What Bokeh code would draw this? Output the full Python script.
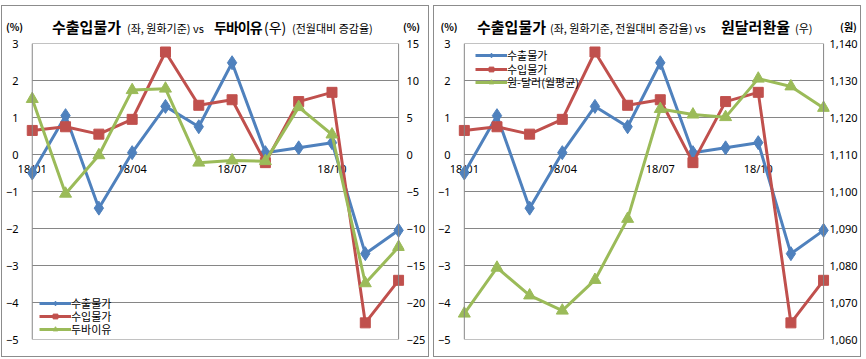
from bokeh.plotting import figure
from bokeh.layouts import row, column
from bokeh.models import (Range1d, LinearAxis, Span, Legend, LegendItem, Div,
                          NumeralTickFormatter, FixedTicker)
from bokeh.core.properties import value
from bokeh.embed import file_html
from bokeh.resources import INLINE

# ---------------- data ----------------
months = ["18/01", "18/02", "18/03", "18/04", "18/05", "18/06",
          "18/07", "18/08", "18/09", "18/10", "18/11", "18/12"]
shown_months = ["18/01", "18/04", "18/07", "18/10"]
export_prices = [-0.5, 1.05, -1.45, 0.05, 1.3, 0.75, 2.48, 0.05, 0.18, 0.32, -2.68, -2.05]
import_prices = [0.65, 0.75, 0.55, 0.95, 2.77, 1.33, 1.48, -0.22, 1.43, 1.68, -4.55, -3.4]
dubai_oil = [7.5, -5.3, -0.1, 8.7, 8.9, -1.1, -0.8, -0.9, 6.4, 2.7, -17.4, -12.5]
krw_usd = [1067.0, 1079.4, 1071.9, 1067.8, 1076.1, 1092.6,
           1122.3, 1120.8, 1120.1, 1130.5, 1128.4, 1122.6]
left_ticks = [-5, -4, -3, -2, -1, 0, 1, 2, 3]
dubai_ticks = [-25, -20, -15, -10, -5, 0, 5, 10, 15]
krw_ticks = [1060, 1070, 1080, 1090, 1100, 1110, 1120, 1130, 1140]

BLUE = "#4F81BD"
RED = "#C0504D"
GREEN = "#9BBB59"
GRID = "#868686"
KR = "Noto Sans CJK KR"
NUM = "Noto Sans"

W = 426          # inner panel width
DIV_H = 31
FIG_H = 319
MBT, MBB = 6, 17
FH = FIG_H - MBT - MBB
xs = list(range(len(months)))
LINE_H = 20


def piece(txt, left, baseline, size, bold=False, ls=0, center_w=None):
    top = baseline - LINE_H / 2 - 0.435 * size
    extra = f"width:{center_w}px;text-align:center;" if center_w else ""
    return (f'<div style="position:absolute;left:{left}px;top:{top:.1f}px;line-height:{LINE_H}px;'
            f'white-space:nowrap;font-size:{size}px;font-weight:{"bold" if bold else "normal"};'
            f'letter-spacing:{ls}px;{extra}">{txt}</div>')


def header(parts):
    html = (f'<div style="position:relative;width:{W}px;height:{DIV_H}px;'
            f'font-family:\'{KR}\';color:#000;">' + "".join(parts) + '</div>')
    return Div(text=html, width=W, height=DIV_H, margin=0)


def make_panel(sec_vals, sec_range, sec_ticks, sec_fmt, sec_name,
               ax_l, ax_r, fr_l, fr_r, r_standoff, legend_x, legend_ys):
    unit = (ax_r - ax_l) / (len(months) - 1)
    x0 = -(ax_l - fr_l) / unit
    x1 = (len(months) - 1) + (fr_r - ax_r) / unit
    p = figure(width=W, height=FIG_H, output_backend="svg", toolbar_location=None,
               x_range=Range1d(x0, x1),
               y_range=Range1d(left_ticks[0], left_ticks[-1]),
               x_axis_location=None,
               min_border_left=fr_l, min_border_right=W - fr_r,
               min_border_top=MBT, min_border_bottom=MBB,
               outline_line_color=None, background_fill_color="white",
               border_fill_color="white", margin=0)
    p.xgrid.visible = False
    p.ygrid.visible = False

    p.extra_y_ranges = {"sec": Range1d(sec_range[0], sec_range[1])}
    rax = LinearAxis(y_range_name="sec", ticker=FixedTicker(ticks=sec_ticks))
    if sec_fmt:
        rax.formatter = NumeralTickFormatter(format=sec_fmt)
    p.add_layout(rax, "right")
    lax = p.yaxis[0]
    lax.ticker = FixedTicker(ticks=left_ticks)
    for ax, so in ((lax, 0), (rax, r_standoff)):
        ax.axis_line_color = None
        ax.major_tick_line_color = None
        ax.minor_tick_line_color = None
        ax.major_tick_out = 0
        ax.major_tick_in = 0
        ax.major_label_standoff = so
        ax.major_label_text_font = NUM
        ax.major_label_text_font_size = "11px"
        ax.major_label_text_color = "#000000"

    # gridlines between the first and last category
    p.segment(x0=xs[0], x1=xs[-1], y0=left_ticks, y1=left_ticks,
              line_color=GRID, line_width=1)
    p.add_layout(Span(location=xs[0], dimension="height", line_color=GRID, line_width=1))
    p.add_layout(Span(location=xs[-1], dimension="height", line_color=GRID, line_width=1))

    # category labels on the zero line
    p.text(x=[months.index(m) for m in shown_months], y=[0] * len(shown_months),
           text=shown_months, text_align="center", text_baseline="top", y_offset=6,
           text_font=value(NUM), text_font_size="11px", text_color="#000000")

    l1 = p.line(xs, export_prices, line_color=BLUE, line_width=3)
    m1 = p.scatter(xs, export_prices, marker="diamond", size=14, fill_color=BLUE, line_color=BLUE)
    l2 = p.line(xs, import_prices, line_color=RED, line_width=3)
    m2 = p.scatter(xs, import_prices, marker="square", size=10, fill_color=RED, line_color=RED)
    l3 = p.line(xs, sec_vals, line_color=GREEN, line_width=3, y_range_name="sec")
    m3 = p.scatter(xs, sec_vals, marker="triangle", size=12, fill_color=GREEN, line_color=GREEN,
                   y_range_name="sec")

    items = [("수출물가", [l1, m1]), ("수입물가", [l2, m2]), (sec_name, [l3, m3])]
    for (lab, rends), ly in zip(items, legend_ys):
        lg = Legend(items=[LegendItem(label=lab, renderers=rends)],
                    location=(legend_x, ly), border_line_color=None, background_fill_alpha=0,
                    label_text_font=KR, label_text_font_size="11px",
                    label_text_color="#000000",
                    glyph_width=32, glyph_height=12, label_height=12,
                    spacing=0, padding=0, margin=0, label_standoff=0)
        p.add_layout(lg)
    return p


TB = 27   # title baseline (inner px)
UB = 25   # unit label baseline

# ---------- left panel ----------
p1 = make_panel(dubai_oil, (dubai_ticks[0], dubai_ticks[-1]), dubai_ticks, None, "두바이유",
                26, 399, 12, 405, 2, 21, [28, 15, 2])
h1 = header([piece("(%)", 2.5, UB, 10, True, center_w=20),
             piece("(%)", 399.5, UB, 10, True, center_w=20),
             piece("수출입물가", 50, TB, 15, True),
             piece("(좌, 원화기준) vs", 125, TB, 11),
             piece("두바이유", 212, TB, 14, True, ls=-1),
             piece("(우)", 262, TB, 14),
             piece("(전월대비 증감율)", 290, TB, 11)])
panel1 = column(h1, p1, spacing=0, styles={"border": "1px solid #8c8c8c"})

# ---------- right panel ----------
p2 = make_panel(krw_usd, (krw_ticks[0], krw_ticks[-1]), krw_ticks, "0,0", "원-달러(월평균)",
                27, 391, 13, 397, 0, 25, [276, 262, 249])
h2 = header([piece("(%)", 5, UB, 10, True, center_w=20),
             piece("(원)", 404.5, UB, 10, True, center_w=20),
             piece("수출입물가", 43, TB, 15, True),
             piece("(좌, 원화기준, 전월대비 증감율) vs", 116, TB, 11),
             piece("원달러환율", 287, TB, 15, True),
             piece("(우)", 361, TB, 11)])
panel2 = column(h2, p2, spacing=0, styles={"border": "1px solid #8c8c8c"})

layout = row(panel1, panel2, spacing=4, margin=(5, 0, 0, 1))
open("out.html", "w").write(file_html(layout, INLINE))
